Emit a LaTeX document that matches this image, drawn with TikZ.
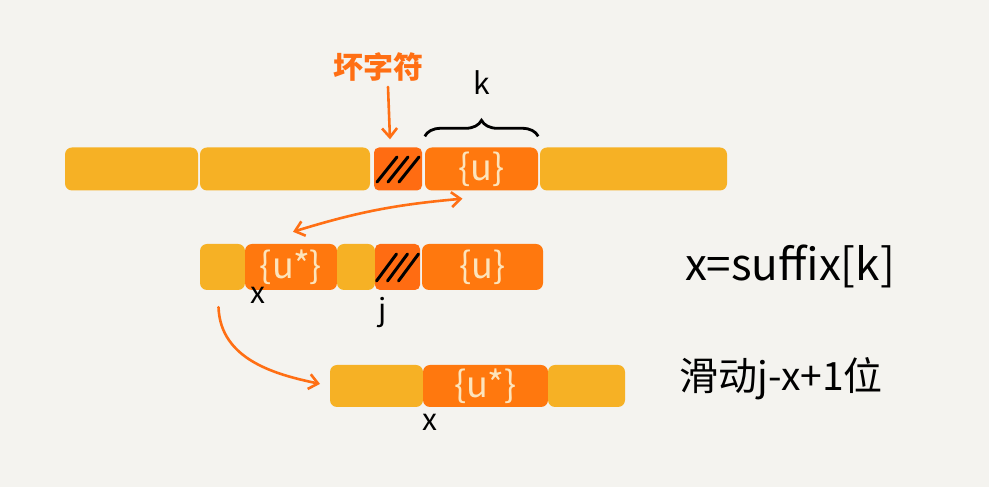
\documentclass[tikz,border=0pt]{standalone}
\usepackage{fontspec}
\setmainfont{Noto Sans CJK SC}
\usetikzlibrary{arrows.meta,positioning,decorations.pathreplacing}
\definecolor{paper}{HTML}{F4F3EF}
\definecolor{segyellow}{HTML}{F6B125}
\definecolor{segorange}{HTML}{FF780E}
\definecolor{badorange}{HTML}{FF6C12}
\definecolor{cream}{HTML}{FCE4BC}
\definecolor{penorange}{HTML}{FF6F14}

\begin{document}
\begin{tikzpicture}[x=1pt,y=1pt,
  segy/.style={fill=segyellow,rounded corners=7pt,minimum height=43pt,inner sep=0pt},
  sego/.style={fill=segorange,rounded corners=7pt,minimum height=43pt,inner sep=0pt,
               text=cream,font=\fontsize{36}{38}\selectfont},
  segbad/.style={fill=badorange,rounded corners=5pt,minimum height=43pt,inner sep=0pt},
  hatch/.style={line width=3pt,line cap=round,black},
  oarr/.style={-{Straight Barb[length=9pt,width=15pt]},line width=2.6pt,penorange,line cap=round},
  lbl/.style={font=\fontsize{30}{32}\selectfont},
  brc/.style={decorate,decoration={brace,amplitude=16pt},line width=2.8pt}]
\useasboundingbox[fill=paper] (0,0) rectangle (989,487);

% text row
\node[segy,minimum width=133pt] (a1)   at (131.5,318) {};
\node[segy,minimum width=170pt] (b1)   at (285,318)   {};
\node[segbad,minimum width=48pt] (bad1) at (398,318)  {};
\node[sego,minimum width=113pt] (u1)   at (481.5,318) {\{u\}};
\node[segy,minimum width=187pt] (c1)   at (633.5,318) {};

% pattern, first place
\node[segy,minimum width=45pt,minimum height=46pt] (a2)   at (222.5,220) {};
\node[sego,minimum width=92pt,minimum height=46pt] (us2)  at (291,220)   {\{u*\}};
\node[segy,minimum width=38pt,minimum height=46pt] (b2)   at (356,220)   {};
\node[segbad,minimum width=45pt,minimum height=46pt] (bad2) at (397.5,220) {};
\node[sego,minimum width=121pt,minimum height=46pt] (u2)  at (482.5,220) {\{u\}};

% pattern, after sliding
\node[segy,minimum width=93pt,minimum height=42pt] (a3)  at (376.5,101) {};
\node[sego,minimum width=125pt,minimum height=42pt] (us3) at (485.5,101) {\{u*\}};
\node[segy,minimum width=77pt,minimum height=42pt] (c3)  at (586.5,101) {};

% hatching of the bad characters
\foreach \d in {-11,0,11}{
  \draw[hatch] ([shift={(\d pt-10pt,-13pt)}]bad1.center) -- ([shift={(\d pt+10pt,12pt)}]bad1.center);
  \draw[hatch] ([shift={(\d pt-10pt,-14pt)}]bad2.center) -- ([shift={(\d pt+10pt,13pt)}]bad2.center);
}

% labels
\node[font=\fontsize{30}{32}\selectfont\bfseries,text=penorange] (badlbl) at (378,420) {坏字符};
\node[lbl] (klbl) at (482,404) {k};
\node[lbl] (xlbl2) at (258,192) {x};
\node[lbl] (jlbl) at (383,174) {j};
\node[lbl] (xlbl3) at (430,65) {x};
\node[font=\fontsize{44}{46}\selectfont] (eqn) at (790,221) {x=suffix[k]};
\node[font=\fontsize{39}{41}\selectfont] (slide) at (781,108) {滑动j-x+1位};

% brace and arrows
\draw[brc] ([yshift=11pt]u1.north west) -- ([yshift=11pt]u1.north east);
\draw[oarr] ([xshift=10pt,yshift=-2pt]badlbl.south) -- ([xshift=-8pt,yshift=8pt]bad1.north);
\draw[oarr,{Straight Barb[length=9pt,width=15pt]}-{Straight Barb[length=9pt,width=15pt]}]
  ([shift={(2pt,12pt)}]us2.north) to[bend left=6] ([shift={(-19pt,-8pt)}]u1.south);
\draw[oarr,shorten >=10pt] ([shift={(-4pt,-17pt)}]a2.south) to[out=-88,in=168] (a3.west);
\end{tikzpicture}
\end{document}
